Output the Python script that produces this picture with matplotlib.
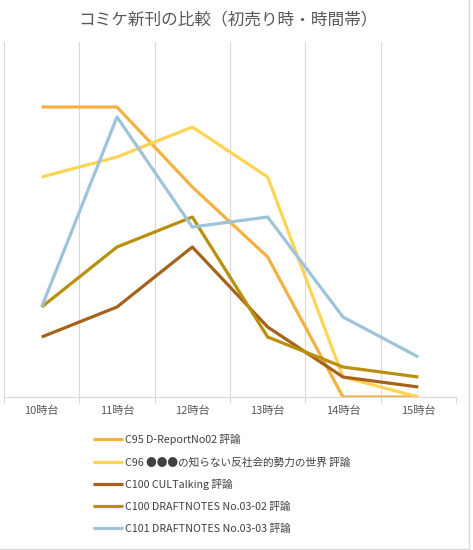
import matplotlib
matplotlib.use("Agg")
import matplotlib.pyplot as plt
from matplotlib.lines import Line2D

plt.rcParams['font.family'] = ['Noto Sans CJK JP', 'DejaVu Sans']

hours = ["10時台", "11時台", "12時台", "13時台", "14時台", "15時台"]

c95 = [29, 29, 21, 14, 0, 0]
c96 = [22, 24, 27, 22, 2, 0]
c100_cul = [6, 9, 15, 7, 2, 1]
c100_draft = [9, 15, 18, 6, 3, 2]
c101_draft = [9, 28, 17, 18, 8, 4]

labels = [
    "C95 D-ReportNo02 評論",
    "C96 ●●●の知らない反社会的勢力の世界 評論",
    "C100 CULTalking 評論",
    "C100 DRAFTNOTES No.03-02 評論",
    "C101 DRAFTNOTES No.03-03 評論",
]
colors = ["#F4B142", "#FFD454", "#A5621A", "#B8900C", "#9EC4DA"]
series = [c95, c96, c100_cul, c100_draft, c101_draft]

W, H = 473, 550
fig = plt.figure(figsize=(W / 100, H / 100), dpi=100)
ax = fig.add_axes([4 / W, (H - 397) / H, 452 / W, 355 / H])

x = list(range(len(hours)))
for vals, col, lab in zip(series, colors, labels):
    ax.plot(x, vals, color=col, lw=2.3, label=lab, solid_capstyle='butt')

ax.set_xlim(-0.5, len(hours) - 0.5)
ax.set_ylim(0, 35.5)
ax.set_yticks([])
ax.set_xticks(x)
ax.set_xticklabels(hours, fontsize=8, color="#595959")
ax.set_xticks([i - 0.5 for i in range(len(hours) + 1)], minor=True)
ax.tick_params(axis='x', which='major', length=0, pad=6)
ax.tick_params(axis='x', which='minor', length=4, color="#D9D9D9", width=0.8)
ax.grid(axis='x', which='minor', color="#D9D9D9", lw=0.8)
for s in ['top', 'left', 'right']:
    ax.spines[s].set_visible(False)
ax.spines['bottom'].set_color("#D9D9D9")
ax.spines['bottom'].set_linewidth(0.8)

fig.text(228 / W, 1 - 20 / H, "コミケ新刊の比較（初売り時・時間帯）",
         ha='center', va='center', fontsize=12, color="#595959")

handles, labs = ax.get_legend_handles_labels()
fig.legend(handles, labs, loc='upper left', bbox_to_anchor=(93 / W, 1 - 434 / H),
           frameon=False, fontsize=7.7, handlelength=2.8, handletextpad=0.15,
           labelspacing=1.1, borderpad=0, borderaxespad=0, labelcolor="#404040")

# chart area border (right and bottom)
fig.add_artist(Line2D([469 / W, 469 / W], [1 - 549 / H, 1], transform=fig.transFigure,
                      color="#D9D9D9", lw=1))
fig.add_artist(Line2D([0, 469 / W], [1 - 549 / H, 1 - 549 / H], transform=fig.transFigure,
                      color="#D9D9D9", lw=1))

fig.savefig("out.png", dpi=100)
